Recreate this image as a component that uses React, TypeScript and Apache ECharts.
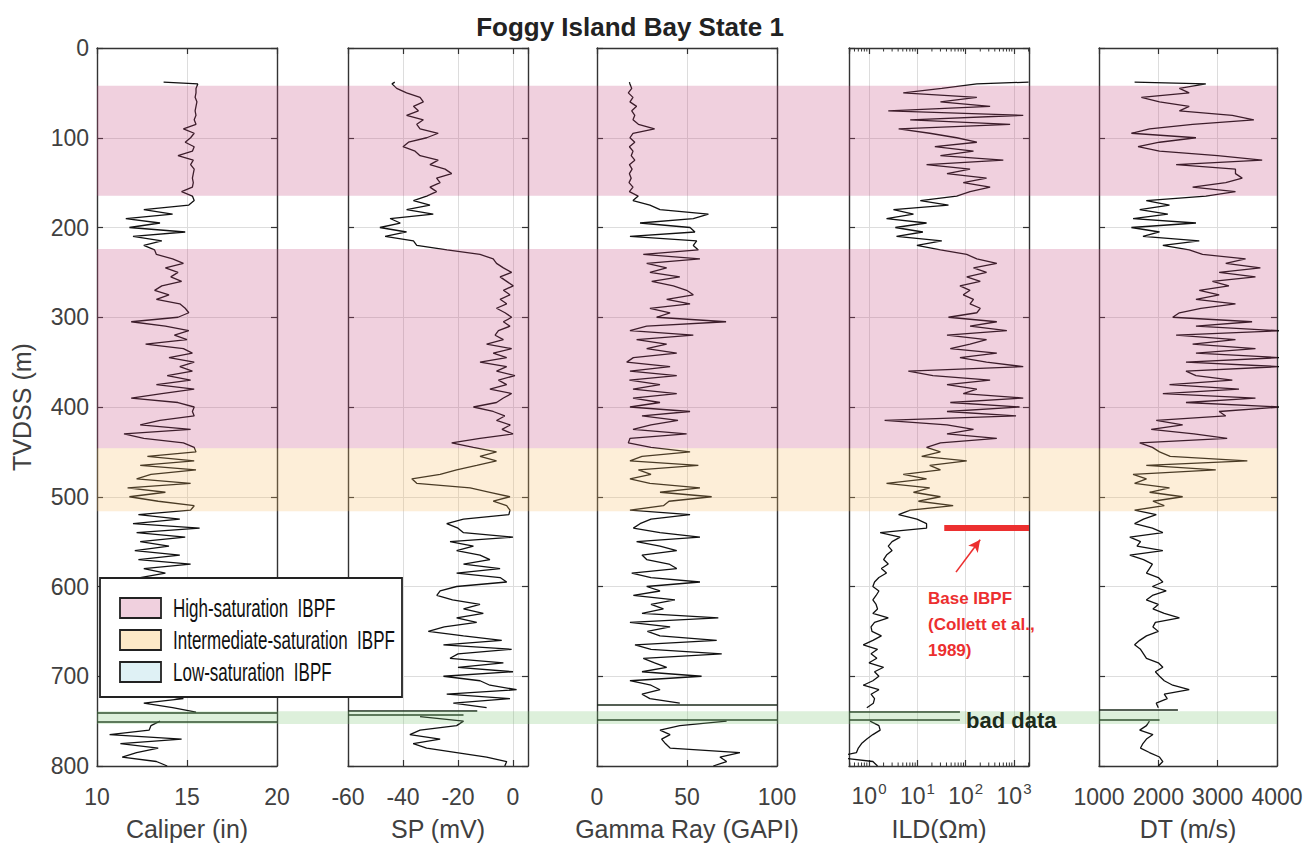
import React, { useEffect, useRef } from 'react';
import * as echarts from 'echarts';

// depth sampling (m, TVDSS)
const depths: number[] = [38, ...Array.from({ length: 153 }, (_, i) => 40 + 5 * i)];

// Caliper (in)
const caliper: (number | null)[] = [
  13.7, 15.6, 15.5, 15.5, 15.45, 15.55, 15.5, 15.45, 15.5, 15.4,
  15.5, 14.8, 15.4, 15.2, 14.9, 15.4, 15.3, 14.5, 15.35, 15.2,
  15.4, 15.35, 15.3, 15.35, 15.3, 14.7, 15.3, 15.4, 15.1, 12.6,
  14.2, 11.6, 13.5, 11.8, 14.9, 12.0, 13.6, 12.6, 13.2, 13.3,
  14.2, 14.8, 13.8, 14.5, 14.1, 14.7, 13.6, 13.2, 14.0, 13.3,
  14.6, 14.9, 15.1, 14.5, 11.9, 13.8, 15.1, 14.3, 15.0, 12.7,
  14.8, 15.3, 14.0, 15.4, 14.6, 15.3, 13.9, 15.2, 13.3, 15.4,
  13.6, 11.9, 14.5, 15.4, 15.3, 15.4, 13.5, 12.4, 15.2, 11.5,
  12.6, 14.8, 15.4, 15.5, 12.8, 15.4, 12.4, 15.5, 13.0, 12.2,
  15.2, 11.7, 13.8, 11.8, 13.4, 15.4, 15.2, 12.3, 14.6, 12.0,
  15.7, 12.2, 14.9, 12.4, 14.0, 12.1, 14.6, 12.3, 15.2, 12.6,
  13.8, 12.4, 13.5, 12.2, 14.0, 12.6, 13.4, 12.3, 14.2, 12.8,
  13.1, 12.5, 14.0, 12.9, 13.6, 12.4, 13.8, 12.7, 14.1, 12.6,
  13.3, 12.5, 13.9, 12.8, 13.4, 12.6, 13.2, 12.9, 14.8, 12.6,
  14.2, 15.5, null, 13.5, 13.0, 12.9, 10.7, 14.7, 11.3, 13.4,
  12.2, 11.4, 13.3, 13.9,
];

// SP (mV)
const sp: (number | null)[] = [
  -43, -44, -42.3, -38.7, -33.8, -32.6, -36.2, -34.4, -38.7, -32.6,
  -35, -33.8, -27.2, -31.4, -38, -40, -35.6, -33.8, -27.2, -30.2,
  -24.7, -22.3, -27.8, -26.5, -30.2, -27.8, -31.4, -36.2, -30.2, -38.7,
  -29, -44.7, -41, -48.4, -38.7, -46.5, -36.2, -35, -24, -12,
  -7.2, -6, -3.5, -0.5, -4.7, -2.3, 0.1, -3.5, -1.1, -4.7,
  -2.3, -6, -2.9, -0.5, -3.5, -1.1, -5.3, -6.5, -3.5, -9.6,
  -0.5, -7.2, -2.3, -12, -2.3, -6, 0.7, -5.3, -2.3, -8.4,
  -0.5, -3.5, -6, -14.4, -7.2, -3, -6, -1, -4, 0,
  -12, -22.3, -14.4, -6, -12, -6, -13.2, -20.5, -26.5, -36.8,
  -35, -15.6, -8.4, -1.1, -7.2, -2.3, -1.1, -1.5, -18, -24.1,
  -20, -18, 0, -22.9, -14.4, -20.5, -12, -8.4, -18, -4.7,
  -20.5, -4.7, -2.3, -20.5, -26.5, -27.7, -22, -12, -18, -10.8,
  -20.5, -13.2, -25, -30.8, -18, -4.1, -25.3, -0.5, -20, -22.9,
  -3.5, -20, 0, -25.3, -12, -8.4, 1.3, -24.1, -1.1, -21.7,
  -9.6, null, -33.8, -18, -20.5, -33.8, -37.5, -26.5, -36.3, -31.4,
  -20.5, -9.6, -2.3, -3,
];

// Gamma Ray (GAPI)
const gammaRay: (number | null)[] = [
  18, 18.3, 19.3, 17.4, 20, 18.3, 22, 19.3, 21, 20,
  23, 32, 20, 18.3, 21, 18, 20, 19, 21, 18,
  19.5, 18, 19, 17.8, 20, 18, 22.9, 20, 29.4, 35,
  61.9, 53.5, 23.9, 51.7, 54.4, 18.3, 55.4, 53.5, 56.3, 25.7,
  57.2, 27.6, 38.7, 29.4, 46, 30.4, 42.4, 49.8, 53.5, 38.7,
  51.7, 29.4, 40.6, 33.1, 71.7, 27.6, 18.3, 53.5, 22, 38.7,
  27.6, 44.3, 20.2, 16.5, 40.6, 18.3, 44.3, 18, 35, 20,
  44.3, 20, 35, 18.3, 51.7, 25, 45, 30, 20, 49.8,
  18.3, 17.4, 30, 51.7, 25, 18.3, 56.3, 23, 30, 18.3,
  29.4, 57.2, 35, 63.7, 40, 36.9, 18.3, 51.7, 30, 23.9,
  20.2, 35, 57.2, 22, 35, 44.3, 25, 27.6, 40, 44.3,
  19.3, 30, 57.2, 27.6, 35, 20.2, 43.3, 30, 36.9, 25,
  67.4, 18.3, 40.6, 28, 35, 66.5, 21.1, 30, 69.3, 25.7,
  32, 38.7, 25, 58.1, 18.3, 30, 35, 25, 29.4, 46,
  null, null, null, 72, 46, 35, 40.6, 35.9, 38, 40.6,
  79.4, 68.3, 72, 64.6,
];

// ILD (ohm-m)
const ild: (number | null)[] = [
  2000, 170, 32, 5.1, 170, 30, 320, 2.5, 1550, 7.1,
  830, 4.1, 18, 65, 170, 23, 145, 30, 600, 15.5,
  123, 41, 270, 89, 320, 123, 65, 11.5, 44, 3.2,
  8.3, 2.3, 15.5, 3.5, 13, 3.7, 32, 9.8, 30, 105,
  170, 440, 145, 270, 105, 200, 76, 123, 89, 145,
  123, 200, 170, 44, 440, 123, 710, 41, 270, 123,
  48, 440, 76, 270, 1550, 6.5, 21, 320, 41, 170,
  89, 1550, 48, 1300, 41, 1100, 2.1, 41, 145, 41,
  440, 30, 15.5, 30, 12.3, 105, 18, 30, 5.1, 15.5,
  2.3, 18, 8.3, 30, 10.5, 55, 7.1, 4.1, 9.8, 15.5,
  15.5, 1.7, 4.4, 3.0, 2.5, 3.0, 2.3, 2.0, 2.5, 1.8,
  2.3, 1.6, 1.3, 1.2, 1.6, 1.4, 1.2, 1.4, 1.5, 1.2,
  2.5, 1.3, 1.1, 1.15, 1.8, 1.2, 0.76, 1.5, 1.1, 1.45,
  1.0, 2.0, 1.3, 1.6, 1.2, 0.76, 1.6, 1.1, 1.3, 1.23,
  0.9, null, null, 1.05, 1.6, 1.7, 1.2, 0.9, 0.7, 0.6,
  0.55, 0.2, 1.2, 1.5,
];

// DT (m/s)
const dt: (number | null)[] = [
  1600, 2800, 2355, 2520, 1714, 2020, 2520, 2355, 3247, 3610,
  2578, 1853, 1546, 2634, 2020, 1658, 2020, 3000, 3750, 2300,
  3300, 3300, 3414, 3136, 2578, 3300, 2800, 1797, 2188, 1686,
  2160, 1574, 2634, 1546, 2020, 1741, 2690, 2076, 2520, 2745,
  3470, 3136, 3720, 3025, 3637, 2912, 3190, 2690, 3025, 2634,
  3300, 2717, 2355, 2243, 3580, 2634, 4050, 2300, 3300, 2578,
  3637, 2634, 4050, 2466, 4050, 2466, 2634, 3247, 2188, 3359,
  2076, 3637, 2466, 4050, 3025, 3136, 1965, 2410, 1880, 2600,
  3160, 1686, 1900, 2020, 2200, 3500, 1797, 2968, 1574, 1800,
  1600, 2188, 1853, 2410, 1909, 2100, 1600, 1965, 1750, 1600,
  1900, 2076, 1519, 1700, 1640, 2076, 1519, 1750, 1900, 1850,
  1800, 2000, 2076, 1900, 2132, 1900, 1797, 2000, 1909, 2100,
  2355, 1950, 1909, 2000, 1800, 1686, 1600, 1700, 1750, 1800,
  2000, 2076, 1950, 2020, 2100, 2243, 2520, 2100, 2150, 1965,
  2000, null, null, 1850, 1800, 1686, 1909, 1800, 1740, 1700,
  1850, 2020, 2076, 2000,
];

// "bad data" flat segments: depth and end value of each (start = panel minimum)
const badDepths = [[741, 751], [738, 743], [732, 748], [739, 749], [737, 748]];
const badEnds = [[20, 20], [-13, -18], [100, 100], [76, 76], [2330, 2020]];

// saturation zones: [top, bottom, kind]
const zones = [
  [42, 164, 0],
  [223, 444, 0],
  [444, 514, 1],
  [736, 750, 2],
];
const zoneFill = ['rgba(195,67,123,0.25)', 'rgba(247,187,99,0.25)', 'rgba(119,195,111,0.25)'];
const legendNames = ['High-saturation\u00a0 IBPF', 'Intermediate-saturation\u00a0 IBPF', 'Low-saturation\u00a0 IBPF'];
const legendFill = ['#f0d0de', '#fde9c8', '#dff1f5'];

// Base IBPF marker (ILD panel)
const baseIBPFDepth = 535;
const baseIBPFFrom = 36;

const panels = [
  { left: 97, width: 180, min: 10, max: 20, interval: 5, name: 'Caliper (in)' },
  { left: 348, width: 180, min: -60, max: 5.45, interval: 20, name: 'SP (mV)' },
  { left: 597, width: 180, min: 0, max: 100, interval: 50, name: 'Gamma Ray (GAPI)' },
  { left: 849, width: 180, min: 0.385, max: 2040, log: true, name: 'ILD(\u03a9m)' },
  { left: 1099, width: 178, min: 1000, max: 4000, interval: 1000, name: 'DT (m/s)' },
];
const curves = [caliper, sp, gammaRay, ild, dt];

const TOP = 48;
const HEIGHT = 721;
const FONT = "'Liberation Sans', Arial, Helvetica, sans-serif";
const TXT = '#404040';
const AX = '#333333';

export default function App() {
  const ref = useRef<HTMLDivElement>(null);
  useEffect(() => {
    if (!ref.current) return;
    const chart = echarts.init(ref.current, null, { renderer: 'svg' });

    const axisLine = { show: true, onZero: false, lineStyle: { color: AX, width: 1.4 } };
    const axisTick = { show: true, inside: true, length: 6, lineStyle: { color: AX, width: 1.2 } };
    const splitLine = { show: true, lineStyle: { color: '#dddddd', width: 1 } };

    const grid: any[] = panels.map((p) => ({ left: p.left, top: TOP, width: p.width, height: HEIGHT }));
    grid.push({ left: 97, top: TOP, width: 1180, height: HEIGHT });

    const xAxis: any[] = [];
    const yAxis: any[] = [];
    panels.forEach((p: any, i) => {
      const base: any = p.log
        ? { type: 'log', logBase: 10, min: p.min, max: p.max }
        : { type: 'value', min: p.min, max: p.max, interval: p.interval };
      xAxis.push({
        ...base,
        gridIndex: i,
        position: 'bottom',
        axisLine,
        axisTick,
        splitLine,
        axisLabel: p.log
          ? {
              fontFamily: FONT,
              color: TXT,
              margin: 15,
              showMinLabel: false,
              showMaxLabel: false,
              formatter: (v: number) => {
                const l = Math.log10(v);
                if (Math.abs(l - Math.round(l)) < 1e-6) return `{a|10}{b|${Math.round(l)}}`;
                return '';
              },
              rich: {
                a: { fontSize: 23, fontFamily: FONT, color: TXT },
                b: { fontSize: 15, fontFamily: FONT, color: TXT, verticalAlign: 'top', padding: [0, 0, 14, 1] },
              },
            }
          : {
              fontSize: 23,
              fontFamily: FONT,
              color: TXT,
              margin: 19,
              showMaxLabel: i === 1 ? false : true,
              formatter: (v: number) => String(v),
            },
        name: p.name,
        nameLocation: 'middle',
        nameGap: 50,
        nameTextStyle: { fontSize: 25, fontFamily: FONT, color: TXT },
      });
      xAxis.push({
        ...base,
        gridIndex: i,
        position: 'top',
        axisLine,
        axisTick,
        splitLine: { show: false },
        axisLabel: { show: false },
      });
      yAxis.push({
        type: 'value',
        gridIndex: i,
        inverse: true,
        min: 0,
        max: 800,
        interval: 100,
        position: 'left',
        axisLine,
        axisTick,
        splitLine,
        axisLabel: { show: i === 0, fontSize: 23, fontFamily: FONT, color: TXT, margin: 8 },
        name: i === 0 ? 'TVDSS (m)' : '',
        nameLocation: 'middle',
        nameGap: 63,
        nameTextStyle: { fontSize: 25, fontFamily: FONT, color: TXT },
      });
      yAxis.push({
        type: 'value',
        gridIndex: i,
        inverse: true,
        min: 0,
        max: 800,
        interval: 100,
        position: 'right',
        axisLine,
        axisTick,
        splitLine: { show: false },
        axisLabel: { show: false },
      });
    });
    xAxis.push({ type: 'value', gridIndex: 5, min: 0, max: 1, show: false });
    yAxis.push({ type: 'value', gridIndex: 5, min: 0, max: 800, inverse: true, show: false });

    const series: any[] = curves.map((vals, i) => {
      const p = panels[i];
      const mlData: any[] = badDepths[i].map((d, k) => [
        { coord: [p.min, d] },
        { coord: [badEnds[i][k], d] },
      ]);
      if (i === 3) {
        mlData.push([
          { coord: [baseIBPFFrom, baseIBPFDepth], lineStyle: { color: '#ec2f2f', width: 6 } },
          { coord: [p.max, baseIBPFDepth], lineStyle: { color: '#ec2f2f', width: 6 } },
        ]);
        mlData.push([
          { coord: [63, 584], symbol: 'none', lineStyle: { color: '#ec2f2f', width: 1.6 } },
          { coord: [199, 548], symbol: 'arrow', symbolSize: [9, 12], lineStyle: { color: '#ec2f2f', width: 1.6 } },
        ]);
      }
      return {
        type: 'line',
        xAxisIndex: 2 * i,
        yAxisIndex: 2 * i,
        showSymbol: false,
        symbol: 'none',
        silent: true,
        connectNulls: false,
        z: 3,
        lineStyle: { color: '#111111', width: 1.3 },
        data: depths.map((d, j) => [vals[j] === null ? '-' : vals[j], d]),
        markLine: {
          silent: true,
          symbol: 'none',
          label: { show: false },
          lineStyle: { color: '#1d2b1d', width: 1.6, type: 'solid' },
          data: mlData,
        },
      };
    });

    // minor ticks of the log ILD axis
    const ildMinor: number[] = [];
    for (let n = -1; n <= 3; n++) {
      for (let k = 2; k <= 9; k++) {
        const v = k * Math.pow(10, n);
        if (v > panels[3].min && v < panels[3].max) ildMinor.push(v);
      }
    }
    series.push({
      type: 'custom',
      xAxisIndex: 6,
      yAxisIndex: 6,
      silent: true,
      clip: false,
      z: 4,
      data: ildMinor.map((v) => [v, 0]),
      renderItem: (_p: any, api: any) => {
        const v = api.value(0);
        const a = api.coord([v, 0]);
        const b = api.coord([v, 800]);
        return {
          type: 'group',
          children: [
            { type: 'line', shape: { x1: a[0], y1: a[1], x2: a[0], y2: a[1] + 3.5 }, style: { stroke: AX, lineWidth: 1 } },
            { type: 'line', shape: { x1: b[0], y1: b[1], x2: b[0], y2: b[1] - 3.5 }, style: { stroke: AX, lineWidth: 1 } },
          ],
        };
      },
    });

    // translucent zones over everything
    series.push({
      type: 'custom',
      xAxisIndex: 10,
      yAxisIndex: 10,
      silent: true,
      z: 10,
      data: zones,
      renderItem: (_p: any, api: any) => {
        const p0 = api.coord([0, api.value(0)]);
        const p1 = api.coord([1, api.value(1)]);
        return {
          type: 'rect',
          shape: { x: p0[0], y: p0[1], width: p1[0] - p0[0], height: p1[1] - p0[1] },
          style: { fill: zoneFill[api.value(2)] },
        };
      },
    });

    const legendEls: any[] = [
      { type: 'rect', z: 100, shape: { x: 100, y: 578, width: 302, height: 119 }, style: { fill: '#ffffff', stroke: '#222222', lineWidth: 1.8 } },
    ];
    const rowY = [608, 640, 672];
    legendNames.forEach((n, k) => {
      legendEls.push({
        type: 'rect',
        z: 101,
        shape: { x: 120, y: rowY[k] - 10, width: 41, height: 20 },
        style: { fill: legendFill[k], stroke: '#222222', lineWidth: 1.8 },
      });
      legendEls.push({
        type: 'text',
        z: 101,
        x: 173,
        y: rowY[k] + 1,
        scaleX: 0.68,
        style: {
          text: n,
          fontSize: 25,
          fontFamily: FONT,
          fill: '#111111',
          align: 'left',
          verticalAlign: 'middle',
        },
      });
    });

    const redText = ['Base IBPF', '(Collett et al.,', '1989)'];

    chart.setOption({
      animation: false,
      backgroundColor: '#ffffff',
      grid,
      xAxis,
      yAxis,
      series,
      graphic: [
        {
          type: 'text',
          x: 630,
          y: 27,
          z: 100,
          style: { text: 'Foggy Island Bay State 1', fontSize: 26, fontWeight: 'bold', fontFamily: FONT, fill: '#222222', align: 'center', verticalAlign: 'middle' },
        },
        {
          type: 'text',
          x: 966,
          y: 720,
          z: 100,
          style: { text: 'bad data', fontSize: 22, fontWeight: 'bold', fontFamily: FONT, fill: '#1b2b1b', align: 'left', verticalAlign: 'middle' },
        },
        ...redText.map((t, k) => ({
          type: 'text',
          x: 928,
          y: 598 + 26 * k,
          z: 100,
          style: { text: t, fontSize: 17, fontWeight: 'bold', fontFamily: FONT, fill: '#ec2f2f', align: 'left', verticalAlign: 'middle' },
        })),
        ...legendEls,
      ],
    });
    return () => chart.dispose();
  }, []);
  return <div ref={ref} style={{ position: 'fixed', left: 0, top: 0, width: 1307, height: 846 }} />;
}
